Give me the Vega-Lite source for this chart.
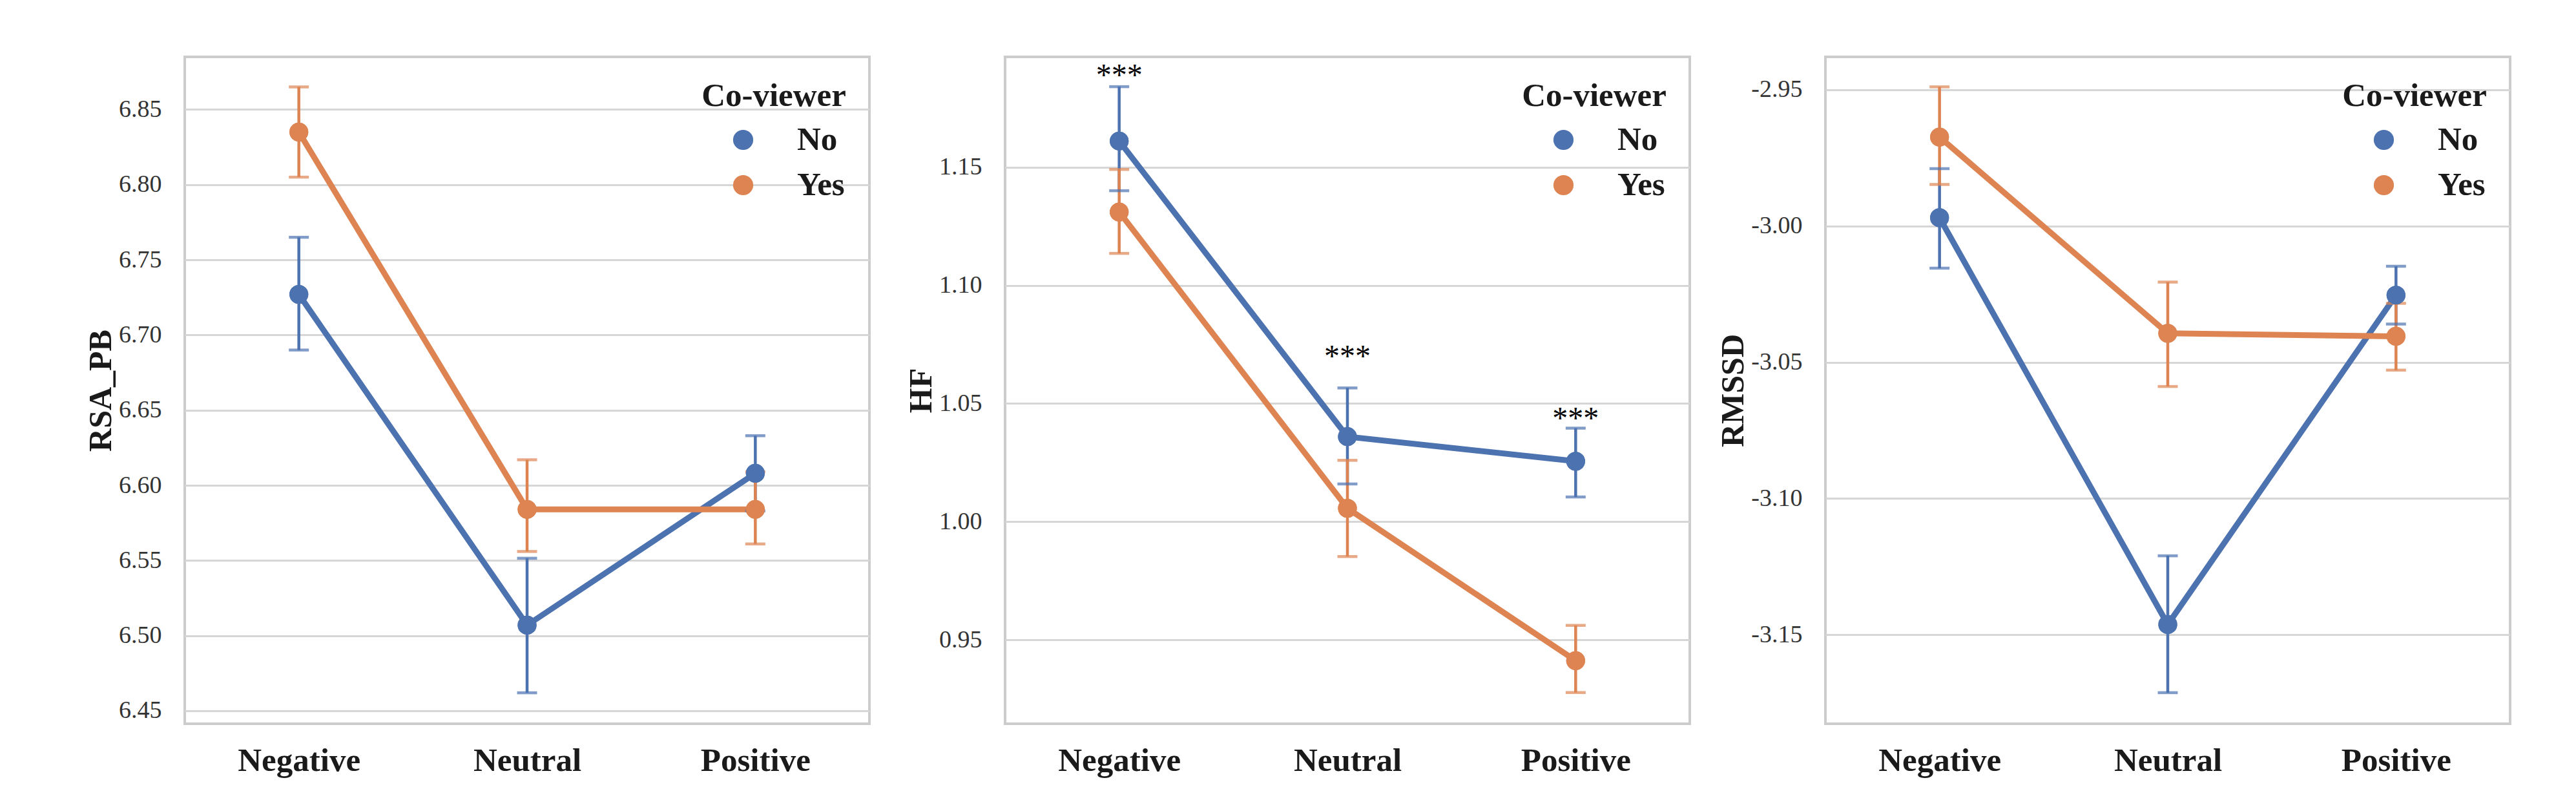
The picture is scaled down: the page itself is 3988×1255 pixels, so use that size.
{
  "$schema": "https://vega.github.io/schema/vega-lite/v6.json",
  "background": "white",
  "padding": {"left": 129, "top": 86, "right": 101, "bottom": 40},
  "datasets": {
    "stats": [
      {"measure": "RSA_PB", "condition": "Negative", "coviewer": "No", "mean": 6.727, "lo": 6.690, "hi": 6.765},
      {"measure": "RSA_PB", "condition": "Negative", "coviewer": "Yes", "mean": 6.835, "lo": 6.805, "hi": 6.865},
      {"measure": "RSA_PB", "condition": "Neutral", "coviewer": "No", "mean": 6.507, "lo": 6.462, "hi": 6.5515},
      {"measure": "RSA_PB", "condition": "Neutral", "coviewer": "Yes", "mean": 6.584, "lo": 6.556, "hi": 6.617},
      {"measure": "RSA_PB", "condition": "Positive", "coviewer": "No", "mean": 6.608, "lo": 6.583, "hi": 6.633},
      {"measure": "RSA_PB", "condition": "Positive", "coviewer": "Yes", "mean": 6.584, "lo": 6.561, "hi": 6.609},
      {"measure": "HF", "condition": "Negative", "coviewer": "No", "mean": 1.161, "lo": 1.140, "hi": 1.184},
      {"measure": "HF", "condition": "Negative", "coviewer": "Yes", "mean": 1.131, "lo": 1.1135, "hi": 1.149},
      {"measure": "HF", "condition": "Neutral", "coviewer": "No", "mean": 1.036, "lo": 1.016, "hi": 1.0566},
      {"measure": "HF", "condition": "Neutral", "coviewer": "Yes", "mean": 1.0057, "lo": 0.9853, "hi": 1.026},
      {"measure": "HF", "condition": "Positive", "coviewer": "No", "mean": 1.0256, "lo": 1.0105, "hi": 1.0396},
      {"measure": "HF", "condition": "Positive", "coviewer": "Yes", "mean": 0.9413, "lo": 0.9278, "hi": 0.9562},
      {"measure": "RMSSD", "condition": "Negative", "coviewer": "No", "mean": -2.997, "lo": -3.0155, "hi": -2.979},
      {"measure": "RMSSD", "condition": "Negative", "coviewer": "Yes", "mean": -2.9674, "lo": -2.9848, "hi": -2.949},
      {"measure": "RMSSD", "condition": "Neutral", "coviewer": "No", "mean": -3.1462, "lo": -3.1712, "hi": -3.121},
      {"measure": "RMSSD", "condition": "Neutral", "coviewer": "Yes", "mean": -3.0394, "lo": -3.0589, "hi": -3.0206},
      {"measure": "RMSSD", "condition": "Positive", "coviewer": "No", "mean": -3.0254, "lo": -3.036, "hi": -3.0148},
      {"measure": "RMSSD", "condition": "Positive", "coviewer": "Yes", "mean": -3.0405, "lo": -3.0529, "hi": -3.0284}
    ],
    "stars": [
      {"condition": "Negative", "y": 1.1847, "label": "***"},
      {"condition": "Neutral", "y": 1.0657, "label": "***"},
      {"condition": "Positive", "y": 1.0394, "label": "***"}
    ]
  },
  "spacing": 210,
  "bounds": "flush",
  "resolve": {"scale": {"y": "independent", "x": "independent", "color": "independent"}, "legend": {"color": "independent"}},
  "hconcat": [
    {
      "width": 1060, "height": 1032,
      "data": {"name": "stats"},
      "transform": [{"filter": "datum.measure === 'RSA_PB'"}],
      "encoding": {
        "x": {"field": "condition", "type": "nominal", "sort": ["Negative", "Neutral", "Positive"], "scale": {"type": "point", "padding": 0.5}, "title": null},
        "color": {"field": "coviewer", "type": "nominal", "title": "Co-viewer", "scale": {"domain": ["No", "Yes"], "range": ["#4C72B0", "#DD8452"]}, "legend": {"orient": "top-right", "offset": 36}}
      },
      "layer": [
        {"mark": {"type": "point", "filled": true, "size": 855, "opacity": 1},
         "encoding": {"y": {"field": "mean", "type": "quantitative", "title": "RSA_PB", "scale": {"domain": [6.4414, 6.885], "nice": false, "zero": false}, "axis": {"values": [6.45, 6.5, 6.55, 6.6, 6.65, 6.7, 6.75, 6.8, 6.85], "format": ".2f"}}}},
        {"mark": {"type": "line", "strokeWidth": 9},
         "encoding": {"y": {"field": "mean", "type": "quantitative", "title": "RSA_PB"}}},
        {"mark": {"type": "rule", "strokeWidth": 4.5},
         "encoding": {"y": {"field": "lo", "type": "quantitative", "title": "RSA_PB"}, "y2": {"field": "hi"}}},
        {"mark": {"type": "tick", "thickness": 4.5, "size": 31},
         "encoding": {"y": {"field": "lo", "type": "quantitative", "title": "RSA_PB"}}},
        {"mark": {"type": "tick", "thickness": 4.5, "size": 31},
         "encoding": {"y": {"field": "hi", "type": "quantitative", "title": "RSA_PB"}}},
        {"mark": {"type": "point", "filled": true, "size": 855, "opacity": 1},
         "encoding": {"y": {"field": "mean", "type": "quantitative", "title": "RSA_PB"}}}
      ]
    },
    {
      "width": 1060, "height": 1032,
      "layer": [
        {
          "data": {"name": "stats"},
          "transform": [{"filter": "datum.measure === 'HF'"}],
          "encoding": {
            "x": {"field": "condition", "type": "nominal", "sort": ["Negative", "Neutral", "Positive"], "scale": {"type": "point", "padding": 0.5}, "title": null},
            "color": {"field": "coviewer", "type": "nominal", "title": "Co-viewer", "scale": {"domain": ["No", "Yes"], "range": ["#4C72B0", "#DD8452"]}, "legend": {"orient": "top-right", "offset": 36}}
          },
          "layer": [
            {"mark": {"type": "point", "filled": true, "size": 855, "opacity": 1},
             "encoding": {"y": {"field": "mean", "type": "quantitative", "title": "HF", "scale": {"domain": [0.9146, 1.1966], "nice": false, "zero": false}, "axis": {"values": [0.95, 1.0, 1.05, 1.1, 1.15], "format": ".2f"}}}},
            {"mark": {"type": "line", "strokeWidth": 9},
             "encoding": {"y": {"field": "mean", "type": "quantitative", "title": "HF"}}},
            {"mark": {"type": "rule", "strokeWidth": 4.5},
             "encoding": {"y": {"field": "lo", "type": "quantitative", "title": "HF"}, "y2": {"field": "hi"}}},
            {"mark": {"type": "tick", "thickness": 4.5, "size": 31},
             "encoding": {"y": {"field": "lo", "type": "quantitative", "title": "HF"}}},
            {"mark": {"type": "tick", "thickness": 4.5, "size": 31},
             "encoding": {"y": {"field": "hi", "type": "quantitative", "title": "HF"}}},
            {"mark": {"type": "point", "filled": true, "size": 855, "opacity": 1},
             "encoding": {"y": {"field": "mean", "type": "quantitative", "title": "HF"}}}
          ]
        },
        {
          "data": {"name": "stars"},
          "mark": {"type": "text", "font": "Liberation Serif", "fontSize": 48, "baseline": "alphabetic", "color": "#000000"},
          "encoding": {
            "x": {"field": "condition", "type": "nominal", "sort": ["Negative", "Neutral", "Positive"], "title": null},
            "y": {"field": "y", "type": "quantitative", "title": "HF"},
            "text": {"field": "label"}
          }
        }
      ]
    },
    {
      "width": 1060, "height": 1032,
      "data": {"name": "stats"},
      "transform": [{"filter": "datum.measure === 'RMSSD'"}],
      "encoding": {
        "x": {"field": "condition", "type": "nominal", "sort": ["Negative", "Neutral", "Positive"], "scale": {"type": "point", "padding": 0.5}, "title": null},
        "color": {"field": "coviewer", "type": "nominal", "title": "Co-viewer", "scale": {"domain": ["No", "Yes"], "range": ["#4C72B0", "#DD8452"]}, "legend": {"orient": "top-right", "offset": 36}}
      },
      "layer": [
        {"mark": {"type": "point", "filled": true, "size": 855, "opacity": 1},
         "encoding": {"y": {"field": "mean", "type": "quantitative", "title": "RMSSD", "scale": {"domain": [-3.1826, -2.938], "nice": false, "zero": false}, "axis": {"values": [-3.15, -3.1, -3.05, -3.0, -2.95], "format": ".2f", "labelExpr": "replace(datum.label, '\u2212', '-')"}}}},
        {"mark": {"type": "line", "strokeWidth": 9},
         "encoding": {"y": {"field": "mean", "type": "quantitative", "title": "RMSSD"}}},
        {"mark": {"type": "rule", "strokeWidth": 4.5},
         "encoding": {"y": {"field": "lo", "type": "quantitative", "title": "RMSSD"}, "y2": {"field": "hi"}}},
        {"mark": {"type": "tick", "thickness": 4.5, "size": 31},
         "encoding": {"y": {"field": "lo", "type": "quantitative", "title": "RMSSD"}}},
        {"mark": {"type": "tick", "thickness": 4.5, "size": 31},
         "encoding": {"y": {"field": "hi", "type": "quantitative", "title": "RMSSD"}}},
        {"mark": {"type": "point", "filled": true, "size": 855, "opacity": 1},
         "encoding": {"y": {"field": "mean", "type": "quantitative", "title": "RMSSD"}}}
      ]
    }
  ],
  "config": {
    "font": "Liberation Serif",
    "view": {"stroke": "#cccccc", "strokeWidth": 4},
    "axis": {"labelFont": "Liberation Serif", "titleFont": "Liberation Serif", "labelColor": "#333333", "titleColor": "#1a1a1a"},
    "axisX": {"labelFontSize": 51, "labelFontWeight": "bold", "labelColor": "#1a1a1a", "labelLimit": 1000, "ticks": false, "domain": false, "grid": false, "labelPadding": 32, "labelAngle": 0},
    "axisY": {"labelFontSize": 38, "ticks": false, "domain": false, "grid": true, "gridColor": "#d6d6d6", "gridWidth": 3, "labelPadding": 36, "titleFontSize": 50, "titleFontWeight": "bold", "titlePadding": 2},
    "legend": {"titleFont": "Liberation Serif", "titleFontSize": 51, "titleFontWeight": "bold", "titleColor": "#1a1a1a", "titleAnchor": "middle", "titlePadding": 16, "titleLimit": 1000,
      "labelFont": "Liberation Serif", "labelFontSize": 51, "labelFontWeight": "bold", "labelColor": "#1a1a1a", "labelOffset": 58, "labelLimit": 1000,
      "symbolType": "circle", "symbolSize": 880, "symbolOffset": 36, "rowPadding": 18, "padding": 0}
  }
}
